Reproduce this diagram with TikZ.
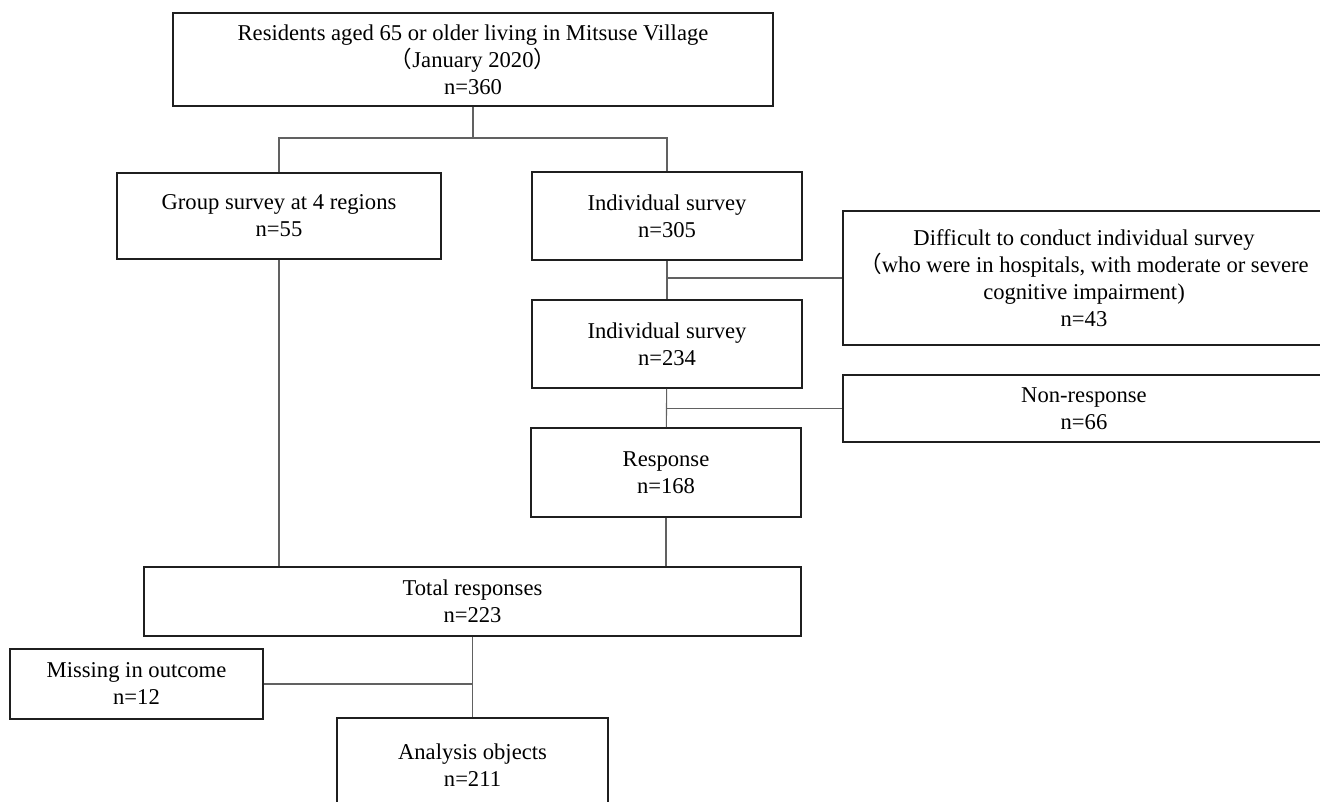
\documentclass[tikz,border=0pt]{standalone}
\usepackage{fontspec}
\setmainfont{Liberation Serif}
\newfontfamily\cjk{Noto Sans CJK JP}
\tikzset{
  box/.style={draw=black!88,line width=1.6pt,inner sep=2pt,align=center,
    font=\fontsize{22.6}{27}\selectfont},
  link/.style={draw=black!62,line width=1.1pt}
}
\begin{document}
\begin{tikzpicture}[x=1pt,y=-1pt]
\useasboundingbox (0,0) rectangle (1320,801);
\node[box,minimum width=600pt,minimum height=93pt] (root) at (473,59.5) {Residents aged 65 or older living in Mitsuse Village\\{\cjk （}January 2020{\cjk ）}\\n=360};
\node[box,minimum width=324pt,minimum height=86pt] (group) at (279,216) {Group survey at 4 regions\\n=55};
\node[box,minimum width=270pt,minimum height=88pt] (indiv1) at (667,216) {Individual survey\\n=305};
\node[box,minimum width=482pt,minimum height=134pt] (diff) at (1084,278) {Difficult to conduct individual survey\\{\cjk （}who were in hospitals, with moderate or severe\\cognitive impairment)\\n=43};
\node[box,minimum width=270pt,minimum height=88pt] (indiv2) at (667,344) {Individual survey\\n=234};
\node[box,minimum width=482pt,minimum height=67pt] (nonresp) at (1084,408.5) {Non-response\\n=66};
\node[box,minimum width=270pt,minimum height=89pt] (resp) at (666,472.5) {Response\\n=168};
\node[box,minimum width=657pt,minimum height=69pt] (total) at (472.5,601.5) {Total responses\\n=223};
\node[box,minimum width=253pt,minimum height=70pt] (missing) at (136.5,684) {Missing in outcome\\n=12};
\node[box,minimum width=271pt,minimum height=94pt] (analysis) at (472.5,765) {Analysis objects\\n=211};
\coordinate (fork) at (473,138);
\draw[link] (root) -- (fork);
\draw[link] (group.north) |- (fork) -| (indiv1.north);
\draw[link] (indiv1) -- (indiv2);
\draw[link] (diff.west) -- (diff.west -| indiv1.south);
\draw[link] (indiv2) -- (resp);
\draw[link] (nonresp.west) -- (nonresp.west -| indiv2.south);
\draw[link] (group.south) -- (group.south |- total.north);
\draw[link] (resp.south) -- (resp.south |- total.north);
\draw[link] (total.south) -- (analysis.north);
\draw[link] (missing.east) -- (missing.east -| total.south);
\end{tikzpicture}
\end{document}
